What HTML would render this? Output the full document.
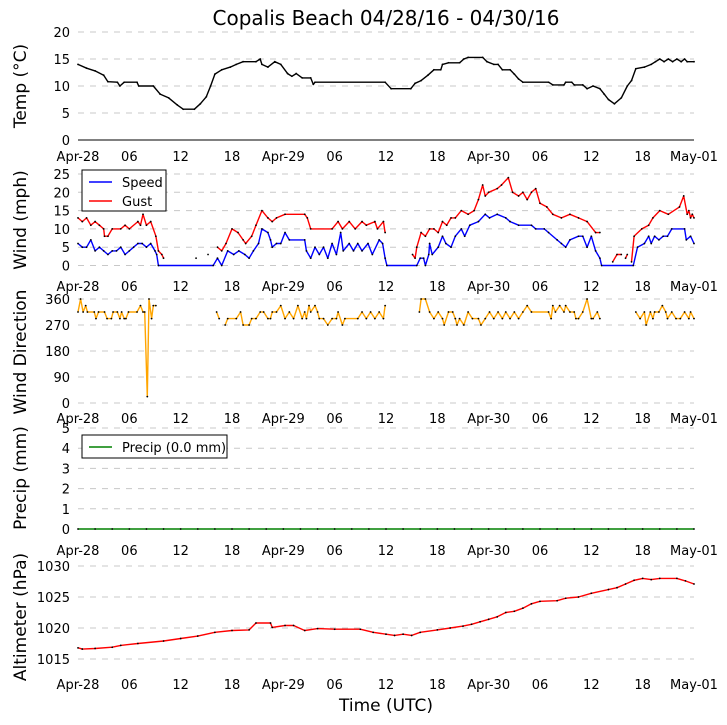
<!DOCTYPE html>
<html><head><meta charset="utf-8"><style>
html,body{margin:0;padding:0;background:#fff;}
svg{display:block;font-family:"DejaVu Sans","Liberation Sans",sans-serif;}
</style></head><body>
<svg id="chart" width="727" height="725" viewBox="0 0 727 725" xmlns="http://www.w3.org/2000/svg">
<text x="386" y="25" font-size="20" text-anchor="middle" fill="#000">Copalis Beach 04/28/16 - 04/30/16</text>
<text x="386" y="711" font-size="17" text-anchor="middle" fill="#000">Time (UTC)</text>
</svg>
<script>
const xTickLabels = ["Apr-28","06","12","18","Apr-29","06","12","18","Apr-30","06","12","18","May-01"];
const xTickHours = [0,6,12,18,24,30,36,42,48,54,60,66,72];

const tempHours = [0,1,2,3,3.5,4.6,4.9,5.4,6.9,7.1,8.8,9.6,10.6,11.6,12.3,13.6,14.3,15,15.5,16,16.8,17.8,18.5,19.3,20.8,21.3,21.5,22.2,23,23.7,24.5,25,25.5,26.2,27.2,27.5,27.7,35.9,36.6,38.9,39.4,40.1,40.9,41.6,42.4,42.6,43.3,44.6,45.1,45.6,47.3,47.8,48.6,49.1,49.6,50.5,51,51.5,52,55,55.5,56.8,57,57.7,58,59,59.5,60.2,61,61.5,62,62.7,63.5,64.2,64.7,65.2,66.2,67,67.5,68,68.5,69,69.5,70,70.5,70.9,71.2,72];
const tempValues = [14,13.3,12.8,12,10.8,10.7,10,10.7,10.7,10,10,8.5,7.8,6.5,5.7,5.7,6.7,8,10,12.2,13,13.5,14,14.5,14.5,15,14,13.5,14.5,14,12.3,11.8,12.3,11.5,11.5,10.3,10.7,10.7,9.5,9.5,10.5,11,12,13,13,14,14.3,14.3,15,15.3,15.3,14.5,14,14,13,13,12.2,11.3,10.7,10.7,10.2,10.2,10.7,10.7,10.2,10.2,9.5,10,9.5,8.5,7.5,6.7,7.8,10,11,13.2,13.5,14,14.5,15,14.5,15,14.5,15,14.5,15,14.5,14.5];

const speedHours = [0,0.5,1,1.5,2,2.5,3,3.5,4,4.5,5,5.5,6,6.5,7,7.5,8,8.5,9,9.2,9.4,15.8,16.3,16.8,17.5,18.2,18.8,19.5,20,20.5,21.1,21.5,22.2,22.5,22.7,23.2,23.7,24.2,24.7,26.5,26.7,27.2,27.7,28.2,28.7,29.2,29.7,30.2,30.7,31,31.7,32.2,32.7,33.2,33.9,34.4,35.2,35.6,35.9,36.1,39.6,40,40.4,40.6,41,41.1,41.4,42.1,42.6,43,43.6,44.1,44.8,45.2,45.8,46.8,47.6,48.1,49,50,50.5,51.5,53,53.5,54.5,55,56,56.5,57,57.5,58.5,59,59.5,60,60.5,61,61.2,64.9,65.4,66.2,66.7,67,67.4,67.9,68.4,68.9,69.4,70.9,71.1,71.6,72];
const speedValues = [6,5,5,7,4,5,4,3,4,4,5,3,4,5,6,6,5,6,4,3,0,0,2,0,4,3,4,3,2,4,6,10,9,7,5,6,6,9,7,7,4,2,5,3,5,2,6,3,9,4,6,4,6,4,6,3,7,6,2,0,0,2,2,0,3,6,3,5,8,6,5,8,10,8,11,12,14,13,14,13,12,11,11,10,10,9,7,6,5,7,8,8,5,8,4,2,0,0,5,6,8,6,8,7,8,8,10,10,7,8,6];

const gustHours = [0,0.5,1,1.5,2,2.5,3,3.1,3.5,4,5,5.5,6,7,7.3,7.6,8,8.5,9.1,9.4,9.8,10,null,13.8,null,15.2,null,16.3,16.8,17.3,18,18.7,19.3,19.6,20.3,20.8,21.5,22.2,22.7,23.2,24.2,26.5,26.8,27.2,29.7,30.4,30.9,31.7,32.4,33.2,33.7,34.7,35,35.7,35.9,null,39.1,39.4,39.6,40.1,40.6,41.1,41.6,42.1,42.6,43.1,43.6,44.1,44.8,45.6,46.3,46.8,47.3,47.6,48,49,49.5,50.3,50.8,51.5,52,52.5,53,53.5,54,54.8,55.5,56.5,57.5,58.5,59.5,60.5,61,null,62.5,63,63.5,null,64,64.2,null,64.7,65,65.9,66.7,67.2,68,69,70.3,70.8,71.2,71.4,71.6,71.8,72];
const gustValues = [13,12,13,11,12,11,10,8,8,10,10,11,10,12,11,14,11,12,8,4,3,2,null,2,null,3,null,5,4,6,10,9,7,6,8,11,15,13,12,13,14,14,13,10,10,12,10,12,10,12,11,12,10,12,9,null,3,2,5,9,8,10,10,9,12,11,13,13,15,14,15,18,22,19,20,21,22,24,20,19,20,18,20,21,17,16,14,13,14,13,12,9,9,null,1,3,3,null,2,3,null,1,8,10,11,13,15,14,16,19,14,15,13,14,13];

const dirHours = [0,0.3,0.6,0.9,1.1,1.9,2.1,2.4,3.1,3.4,3.9,4.1,4.6,4.9,5.1,5.4,5.6,5.9,6.9,7.3,7.6,7.8,8.1,8.3,8.6,8.8,9.1,null,16.2,16.5,null,17.2,17.5,18.5,19,19.3,20,20.3,20.8,21.3,21.7,22.2,22.5,22.7,23.2,23.7,24.2,24.7,25.2,25.7,26.2,26.5,26.7,27,27.2,27.7,28,28.2,28.7,29.2,29.7,30.2,30.4,30.9,31.2,32.7,33.2,33.7,34.2,34.7,35.2,35.7,35.9,null,39.9,40.1,40.6,41.1,41.6,42.1,42.6,42.8,43.3,43.8,44.1,44.3,44.6,45.1,45.6,46.1,46.8,47.1,47.6,48.1,48.6,49.1,49.6,50,50.5,51,51.5,52,52.5,53,55,55.3,55.5,55.8,56.3,56.8,57,57.5,58,58.2,58.5,59,59.5,60,60.2,60.7,61,null,65.2,65.7,66.2,66.4,66.9,67.2,67.4,67.9,68.3,68.7,68.9,69.4,69.9,70.4,70.9,71.4,71.6,72];
const dirValues = [315,360,315,337,315,315,292,315,315,292,292,315,315,292,315,292,292,315,315,337,315,315,22,360,292,337,337,null,315,292,null,270,292,292,315,270,270,292,292,315,315,292,292,315,315,337,292,315,292,337,292,315,292,337,315,337,315,292,292,270,292,292,315,270,292,292,315,292,315,292,315,292,337,null,315,360,360,315,292,315,292,270,315,315,292,270,292,270,315,292,292,270,292,315,292,315,292,315,292,315,292,315,337,315,315,292,337,315,337,315,337,315,315,292,292,315,360,292,292,315,292,null,315,292,315,270,315,292,315,315,337,315,292,315,292,292,315,292,315,292];

const precipHours = [0,2,4,6,8,10,12,14,16,18,20,22,24,26,28,30,32,34,36,38,40,42,44,46,48,50,52,54,56,58,60,62,64,66,68,70,72];
const precipValues = [0,0,0,0,0,0,0,0,0,0,0,0,0,0,0,0,0,0,0,0,0,0,0,0,0,0,0,0,0,0,0,0,0,0,0,0,0];

const altHours = [0,0.5,2,4,5,7,10,12,14,16,18,20,20.8,22.5,22.7,24.2,25.2,26.5,28,30,33,34.5,36,37,38,39,40,42,43.5,45,46,47,48,49,50,51,52,53,54,56,57,58.5,60,62,63,64,65,66,67,68,70,71,72];
const altValues = [1016.8,1016.6,1016.7,1016.9,1017.2,1017.5,1017.9,1018.3,1018.7,1019.3,1019.6,1019.7,1020.8,1020.8,1020.1,1020.4,1020.4,1019.6,1019.9,1019.8,1019.8,1019.3,1019.0,1018.8,1019.0,1018.8,1019.3,1019.7,1020.0,1020.3,1020.6,1021.0,1021.4,1021.8,1022.5,1022.7,1023.2,1023.9,1024.3,1024.4,1024.8,1025.0,1025.6,1026.2,1026.5,1027.1,1027.7,1028.0,1027.8,1028.0,1028.0,1027.6,1027.1];

const tempTicks = [0,5,10,15,20];
const windTicks = [0,5,10,15,20,25];
const dirTicks = [0,90,180,270,360];
const precipTicks = [0,1,2,3,4,5];
const altTicks = [1015,1020,1025,1030];

const NS = "http://www.w3.org/2000/svg";
const svg = document.getElementById("chart");
const X0 = 78, X1 = 694;
function xScale(h){ return X0 + (X1 - X0) * h / 72; }
function mk(tag, attrs, parent){ const e = document.createElementNS(NS, tag); for (const k in attrs) e.setAttribute(k, attrs[k]); (parent||svg).appendChild(e); return e; }
function linScale(v0, y0, v1, y1){ return v => y0 + (v - v0) * (y1 - y0) / (v1 - v0); }

function panel(name, ys, ticks, title, titleY, labelY, solidZero){
  const g = mk("g", {});
  
  
  ticks.forEach(t => {
    const y = ys(t);
    const ln = mk("line", {x1:X0, x2:X1, y1:y, y2:y, stroke:"#c8c8c8", "stroke-width":1, "stroke-dasharray":"6,6"}, g);
    
    
    const tx = mk("text", {x:X0-8, y:y+5, "font-size":13, "text-anchor":"end", fill:"#000"}, g);
    tx.textContent = t;
    
    
  });
  if (solidZero){
    const ax = mk("line", {x1:X0, x2:X1, y1:ys(ticks[0]), y2:ys(ticks[0]), stroke:"#000", "stroke-width":1}, g);
    
    
  }
  xTickHours.forEach((h, i) => {
    const tx = mk("text", {x:xScale(h), y:labelY, "font-size":13, "text-anchor":"middle", fill:"#000"}, g);
    tx.textContent = xTickLabels[i];
    
    
  });
  const tt = mk("text", {x:0, y:0, "font-size":17, "text-anchor":"middle", fill:"#000", transform:"translate(26," + titleY + ") rotate(-90)"}, g);
  tt.textContent = title;
  
  
  return g;
}

function series(name, g, hours, values, ys, color, markers){
  let d = "", pen = false;
  for (let i = 0; i < hours.length; i++){
    if (hours[i] === null || values[i] === null){ pen = false; continue; }
    d += (pen ? "L" : "M") + xScale(hours[i]).toFixed(1) + "," + ys(values[i]).toFixed(1);
    pen = true;
  }
  const p = mk("path", {d:d, fill:"none", stroke:color, "stroke-width":1.4, "stroke-linejoin":"round"}, g);
  
  
  if (markers){
    for (let i = 0; i < hours.length; i++){
      if (hours[i] === null || values[i] === null) continue;
      const c = mk("circle", {cx:xScale(hours[i]), cy:ys(values[i]), r:0.9, fill:"#000"}, g);
      
      
    }
  }
}

function legend(name, x, y, w, h, entries){
  const g = mk("g", {});
  
  
  mk("rect", {x:x, y:y, width:w, height:h, fill:"#fff", stroke:"#000", "stroke-width":1}, g);
  entries.forEach((e, i) => {
    const cy = y + 12 + i * 19;
    const ln = mk("line", {x1:x+7, x2:x+30, y1:cy, y2:cy, stroke:e[1], "stroke-width":1.5}, g);
    
    
    const t = mk("text", {x:x+40, y:cy+5, "font-size":13, fill:"#000"}, g);
    t.textContent = e[0];
    
    
  });
}

// Temperature
const yT = linScale(0, 140, 20, 32);
const gT = panel("temperature", yT, tempTicks, "Temp (\u00B0C)", 86, 161, true);
series("temperature", gT, tempHours, tempValues, yT, "#000", true);

// Wind
const yW = linScale(0, 265.5, 25, 174);
const gW = panel("wind", yW, windTicks, "Wind (mph)", 220, 291, false);
series("wind-speed", gW, speedHours, speedValues, yW, "#0000ff", true);
series("wind-gust", gW, gustHours, gustValues, yW, "#ff0000", true);
legend("wind-legend", 82, 170, 84, 41, [["Speed","#0000ff"],["Gust","#ff0000"]]);

// Direction
const yD = linScale(0, 403, 360, 299);
const gD = panel("wind-direction", yD, dirTicks, "Wind Direction", 352, 423, false);
series("wind-direction", gD, dirHours, dirValues, yD, "#ffa500", true);

// Precip
const yP = linScale(0, 529, 5, 428);
const gP = panel("precip", yP, precipTicks, "Precip (mm)", 478, 555, false);
series("precip", gP, precipHours, precipValues, yP, "#008000", true);
legend("precip-legend", 82, 435, 145, 23, [["Precip (0.0 mm)","#008000"]]);

// Altimeter
const yA = linScale(1015, 659, 1030, 566);
const gA = panel("altimeter", yA, altTicks, "Altimeter (hPa)", 617, 689, false);
series("altimeter", gA, altHours, altValues, yA, "#ff0000", true);
</script>
</body></html>
